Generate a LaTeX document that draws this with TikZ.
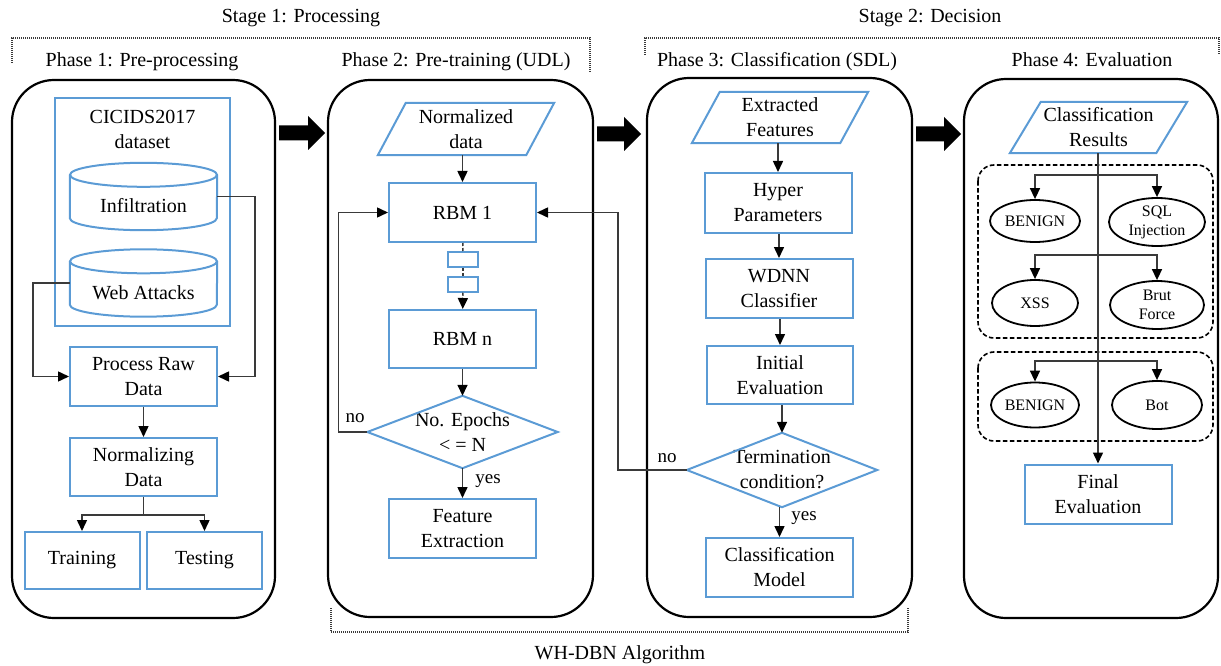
\documentclass[tikz,border=0pt]{standalone}
\usepackage{fontspec}
\setmainfont{Liberation Serif}
\usetikzlibrary{arrows.meta,shapes.geometric,calc}
\definecolor{bl}{HTML}{5B9BD5}
\definecolor{ln}{HTML}{3A3A3A}
\newcommand{\blockarrow}[3]{%
  \fill[black] (#1,#3) ++(0,-7.5) -- ++({#2-#1-17},0) -- ++(0,-9.5) -- ++(17,17) -- ++(-17,17) -- ++(0,-9.5) -- ++({-(#2-#1-17)},0) -- cycle;}
\begin{document}
\begin{tikzpicture}[x=1pt,y=-1pt,
  font=\fontsize{20}{25}\selectfont,
  box/.style={draw=bl, line width=2pt, minimum width=147pt, minimum height=59pt, align=center, inner sep=0pt},
  ghost/.style={inner sep=0pt, align=center},
  blueline/.style={draw=bl, line width=2pt},
  txt/.style={align=center, inner sep=0pt},
  panel/.style={draw=black, line width=2.2pt, rounded corners=42pt},
  conn/.style={draw=ln, line width=1.5pt, -{Triangle[length=11pt,width=10pt,color=black]}},
  plain/.style={draw=ln, line width=1.5pt},
  oval/.style={ellipse, draw=black, line width=1.8pt, inner sep=0pt, align=center, font=\fontsize{16}{19}\selectfont},
  dbox/.style={draw=black, line width=1.6pt, dash pattern=on 4.5pt off 2.5pt, rounded corners=16pt},
  brk/.style={draw=ln, line width=1.2pt, dash pattern=on 1pt off 1pt},
  lab/.style={inner sep=0pt, font=\fontsize{19}{22}\selectfont},
]
\useasboundingbox (0,0) rectangle (1221,666);

% ---------- titles and brackets ----------
\node[txt] (s1) at (301,18) {Stage 1: Processing};
\node[txt] (s2) at (930,18) {Stage 2: Decision};
\node[txt] (p1) at (142,62) {Phase 1: Pre-processing};
\node[txt] (p2) at (456,62) {Phase 2: Pre-training (UDL)};
\node[txt] (p3) at (777,62) {Phase 3: Classification (SDL)};
\node[txt] (p4) at (1092,60) {Phase 4: Evaluation};
\node[txt] (wh) at (620,655) {WH-DBN Algorithm};
\draw[brk] (12,63) -- (12,38) -- (590,38) -- (590,72);
\draw[brk] (645,55) -- (645,38) -- (1219,38) -- (1219,55);
\draw[brk] (331,608) -- (331,632) -- (908,632) -- (908,608);

% ---------- panels ----------
\draw[panel] (12,80) rectangle (275,618);
\draw[panel] (328,80) rectangle (593,617);
\draw[panel] (647,78) rectangle (912,617);
\draw[panel] (964,79) rectangle (1218,618);
\blockarrow{279}{325}{133}
\blockarrow{597}{641}{134}
\blockarrow{916}{961}{134}

% ---------- Phase 1 ----------
\node[box, minimum width=175pt, minimum height=228pt] (ds) at (142.5,212) {};
\node[txt] (dst) at (142.5,129.5) {CICIDS2017\\dataset};
\node[ghost, minimum width=147pt, minimum height=67pt] (inf) at (143.5,196.5) {};
\draw[blueline] ([yshift=-12pt]inf.north west) -- ([yshift=12pt]inf.south west)
  arc[start angle=180,end angle=360,x radius=73.5pt,y radius=12pt] -- ([yshift=-12pt]inf.north east);
\draw[blueline] ([yshift=-12pt]inf.north) ellipse [x radius=73.5pt,y radius=12pt];
\node[txt] (inft) at (143.5,206) {Infiltration};
\node[ghost, minimum width=147pt, minimum height=67pt] (web) at (143.5,283) {};
\draw[blueline] ([yshift=-12pt]web.north west) -- ([yshift=12pt]web.south west)
  arc[start angle=180,end angle=360,x radius=73.5pt,y radius=12pt] -- ([yshift=-12pt]web.north east);
\draw[blueline] ([yshift=-12pt]web.north) ellipse [x radius=73.5pt,y radius=12pt];
\node[txt] (webt) at (143.5,293) {Web Attacks};
\node[box] (raw) at (143.5,376.5) {Process Raw\\Data};
\node[box, minimum height=58pt] (norm) at (143.5,467) {Normalizing\\Data};
\node[box, minimum width=115pt, minimum height=57pt] (train) at (82,560.5) {Training};
\node[box, minimum width=115pt, minimum height=57pt] (test) at (204.5,560.5) {Testing};
\draw[conn] (inf.east) -- ++(38,0) |- (raw.east);
\draw[conn] (web.west) -- ++(-37,0) |- (raw.west);
\draw[conn] (raw) -- (norm);
\draw[plain] (norm.south) -- ++(0,18) coordinate (sp);
\draw[conn] (sp) -| (train);
\draw[conn] (sp) -| (test);

% ---------- Phase 2 ----------
\node[ghost, minimum width=176pt, minimum height=52pt] (nd) at (466,129) {Normalized\\data};
\draw[blueline] ([xshift=28pt]nd.north west) -- (nd.north east) -- ([xshift=-28pt]nd.south east) -- (nd.south west) -- cycle;
\node[box] (rbm1) at (462.5,212.5) {RBM 1};
\node[box, minimum width=30pt, minimum height=15pt, line width=1.5pt] (sb1) at (463,259.5) {};
\node[box, minimum width=30pt, minimum height=15pt, line width=1.5pt] (sb2) at (463,284.5) {};
\node[box, minimum height=58pt] (rbmn) at (462.5,339) {RBM n};
\node[ghost, minimum width=190pt, minimum height=72pt] (ep) at (462.5,432) {No. Epochs\\{<} = N};
\draw[blueline] (ep.north) -- (ep.east) -- (ep.south) -- (ep.west) -- cycle;
\node[box] (fe) at (462.5,528.5) {Feature\\Extraction};
\draw[conn] (nd.south -| rbm1.north) -- (rbm1.north);
\draw[plain, dash pattern=on 3pt off 2pt] (rbm1) -- (sb1);
\draw[plain, dash pattern=on 3pt off 2pt] (sb1) -- (sb2);
\draw[conn, dash pattern=on 3pt off 2pt] (sb2) -- (rbmn);
\draw[conn] (rbmn) -- (ep.north);
\draw[conn] (ep.south) -- (fe);
\draw[conn] (ep.west) -- ++(-29,0) |- (rbm1.west);
\node[lab] (no1) at (355,418) {no};
\node[lab] (yes1) at (488,481) {yes};

% ---------- Phase 3 ----------
\node[ghost, minimum width=176pt, minimum height=51pt] (ef) at (780,117.5) {Extracted\\Features};
\draw[blueline] ([xshift=28pt]ef.north west) -- (ef.north east) -- ([xshift=-28pt]ef.south east) -- (ef.south west) -- cycle;
\node[box, minimum height=60pt] (hp) at (778,203) {Hyper\\Parameters};
\node[box] (wd) at (779,288.5) {WDNN\\Classifier};
\node[box, minimum width=146pt, minimum height=58pt] (ie) at (780,375) {Initial\\Evaluation};
\node[ghost, minimum width=190pt, minimum height=74pt] (tc) at (782,470) {Termination\\condition?};
\draw[blueline] (tc.north) -- (tc.east) -- (tc.south) -- (tc.west) -- cycle;
\node[box] (cm) at (779.5,567.5) {Classification\\Model};
\draw[conn] (ef.south -| hp.north) -- (hp.north);
\draw[conn] (hp.south -| wd.north) -- (wd.north);
\draw[conn] (wd.south -| ie.north) -- (ie.north);
\draw[conn] (ie.south -| tc.north) -- (tc.north);
\draw[conn] (tc.south -| cm.north) -- (cm.north);
\draw[conn] (tc.west) -- ++(-69,0) |- (rbm1.east);
\node[lab] (no2) at (667,458) {no};
\node[lab] (yes2) at (804,518) {yes};

% ---------- Phase 4 ----------
\node[ghost, minimum width=177pt, minimum height=51pt] (cr) at (1098.5,127.5) {Classification\\Results};
\draw[blueline] ([xshift=31pt]cr.north west) -- (cr.north east) -- ([xshift=-31pt]cr.south east) -- (cr.south west) -- cycle;
\draw[dbox] (978,165) rectangle (1213,338);
\draw[dbox] (978,352) rectangle (1213,441);
\node[box] (fin) at (1098,494) {Final\\Evaluation};
\node[oval, minimum width=90pt, minimum height=42pt] (b1) at (1035,221) {BENIGN};
\node[oval, minimum width=96pt, minimum height=48pt] (sq) at (1157,222) {SQL\\Injection};
\node[oval, minimum width=86pt, minimum height=46pt] (xs) at (1035,303) {XSS};
\node[oval, minimum width=94pt, minimum height=48pt] (bf) at (1157,305) {Brut\\Force};
\node[oval, minimum width=88pt, minimum height=45pt] (b2) at (1035,405) {BENIGN};
\node[oval, minimum width=90pt, minimum height=48pt] (bt) at (1157,405) {Bot};
\draw[conn] (cr.south -| fin.north) -- (fin.north);
\path (cr.south -| fin.north) ++(0,22) coordinate (f1) ++(0,80) coordinate (f2) ++(0,106) coordinate (f3);
\draw[conn] (f1) -| (b1);
\draw[conn] (f1) -| (sq);
\draw[conn] (f2) -| (xs);
\draw[conn] (f2) -| (bf);
\draw[conn] (f3) -| (b2);
\draw[conn] (f3) -| (bt);
\end{tikzpicture}
\end{document}
